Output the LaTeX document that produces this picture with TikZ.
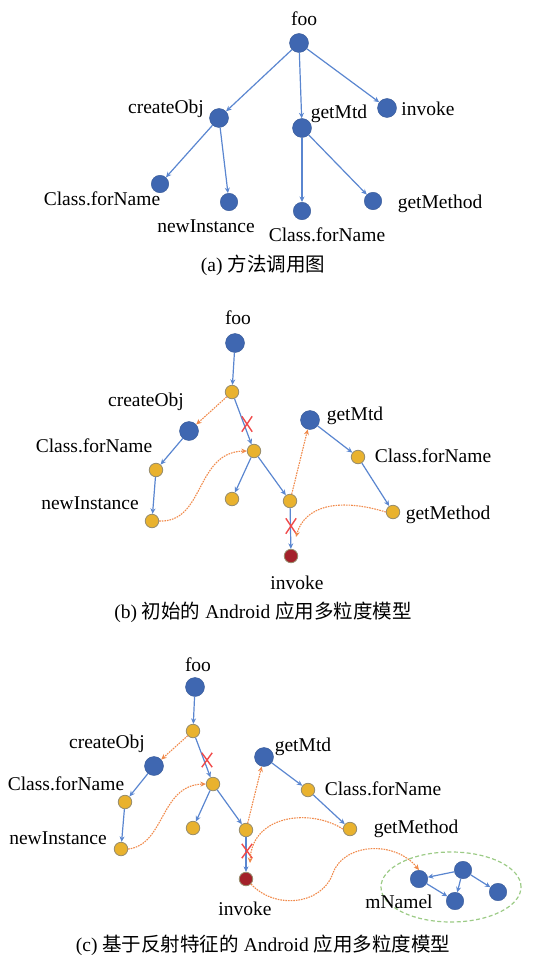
\documentclass[tikz,border=0pt]{standalone}
\usepackage{fontspec}
\setmainfont{Liberation Serif}
\newfontfamily\cjk{Noto Sans CJK SC}
\usetikzlibrary{arrows.meta,shapes.geometric,shapes.misc}
\definecolor{nblue}{HTML}{3F67B1}
\definecolor{eblue}{HTML}{5A86D0}
\definecolor{nyel}{HTML}{E9B22E}
\definecolor{nyelb}{HTML}{978C6C}
\definecolor{nred}{HTML}{A3212A}
\definecolor{eor}{HTML}{F08A4B}
\definecolor{xred}{HTML}{F04A4A}
\definecolor{egreen}{HTML}{9CCB86}
\begin{document}
\begin{tikzpicture}[x=1pt,y=-1pt,
  bn/.style={circle,fill=nblue,draw=nblue!85!black,line width=0.4pt,minimum size=19pt,inner sep=0pt},
  bns/.style={bn,minimum size=17.5pt},
  yn/.style={circle,fill=nyel,draw=nyelb,line width=0.8pt,minimum size=13.5pt,inner sep=0pt},
  rn/.style={circle,fill=nred,draw=nyelb,line width=0.8pt,minimum size=13.5pt,inner sep=0pt},
  lbl/.style={font=\fontsize{19.5}{22}\selectfont,inner sep=0pt},
  be/.style={draw=eblue,line width=1.2pt,-{Stealth[length=5.5pt,width=5pt]}},
  oe/.style={draw=eor,line width=1.1pt,dash pattern=on 1.6pt off 1pt,-{Stealth[length=5.5pt,width=5pt]}},
  xm/.style={draw=xred,cross out,line width=1.4pt,inner sep=0pt}]
\useasboundingbox (0,0) rectangle (535,955);

% ---------------- (a) ----------------
\node[bn] (a_foo) at (299,43) {};
\node[bn] (a_co) at (219,118) {};
\node[bn] (a_gm) at (302,128) {};
\node[bn] (a_inv) at (387,108) {};
\node[bns] (a_cf1) at (160,184) {};
\node[bns] (a_ni) at (229,202) {};
\node[bns] (a_cf2) at (302,211) {};
\node[bns] (a_gme) at (373,201) {};
\node[lbl] at (304,19) {foo};
\node[lbl] at (166,109) {createObj};
\node[lbl] at (339,114) {getMtd};
\node[lbl] at (428,109) {invoke};
\node[lbl] at (102,199) {Class.forName};
\node[lbl] at (206,226) {newInstance};
\node[lbl] at (327,235) {Class.forName};
\node[lbl] at (440,204) {getMethod};
\node[lbl] at (263,265) {(a) {\cjk 方法调用图}};
\draw[be] (a_foo) -- (a_co);
\draw[be] (a_foo) -- (a_gm);
\draw[be] (a_foo) -- (a_inv);
\draw[be] (a_co) -- (a_cf1);
\draw[be] (a_co) -- (a_ni);
\draw[be] (a_gm) -- (a_cf2);
\draw[be] (a_gm) -- (a_gme);

% ---------------- (b) ----------------
\node[bn] (b_foo) at (235,343) {};
\node[yn] (b_n1) at (232,392) {};
\node[bn] (b_co) at (189,431) {};
\node[yn] (b_cf) at (156,470) {};
\node[yn] (b_ni) at (152,521) {};
\node[yn] (b_mid) at (254,451) {};
\node[yn] (b_ll) at (232,499) {};
\node[yn] (b_rl) at (290,501) {};
\node[rn] (b_inv) at (291,556) {};
\node[bn] (b_gm) at (310,420) {};
\node[yn] (b_cf2) at (358,457) {};
\node[yn] (b_gme) at (393,512) {};
\node[lbl] at (238,318) {foo};
\node[lbl] at (146,402) {createObj};
\node[lbl] at (94,446) {Class.forName};
\node[lbl] at (90,503) {newInstance};
\node[lbl] at (297,583) {invoke};
\node[lbl] at (355,416) {getMtd};
\node[lbl] at (433,456) {Class.forName};
\node[lbl] at (448,515) {getMethod};
\node[lbl] at (263,612) {(b) {\cjk 初始的} Android {\cjk 应用多粒度模型}};
\draw[be] (b_foo) -- (b_n1);
\draw[be] (b_n1) -- (b_mid);
\draw[be] (b_co) -- (b_cf);
\draw[be] (b_cf) -- (b_ni);
\draw[be] (b_mid) -- (b_ll);
\draw[be] (b_mid) -- (b_rl);
\draw[be] (b_rl) -- (b_inv);
\draw[be] (b_gm) -- (b_cf2);
\draw[be] (b_cf2) -- (b_gme);
\node[xm,minimum width=9pt,minimum height=14pt] (b_x1) at (247,424) {};
\node[xm,minimum width=9pt,minimum height=14pt] (b_x2) at (291,526) {};
\draw[oe] (b_n1) -- (b_co);
\draw[oe] (b_rl) -- (b_gm);
\draw[oe] (b_ni.east) .. controls (205,523) and (195,452) .. (b_mid.west);
\coordinate (b_end) at (296,537);
\draw[oe] (b_gme.west) .. controls (340,498) and (305,505) .. (b_end);

% ---------------- (c) ----------------
\node[bn] (c_foo) at (195,687) {};
\node[yn] (c_n1) at (193,731) {};
\node[bn] (c_co) at (154,766) {};
\node[yn] (c_cf) at (125,802) {};
\node[yn] (c_ni) at (121,849) {};
\node[yn] (c_mid) at (213,784) {};
\node[yn] (c_ll) at (193,828) {};
\node[yn] (c_rl) at (246,830) {};
\node[rn] (c_inv) at (246,879) {};
\node[bn] (c_gm) at (264,757) {};
\node[yn] (c_cf2) at (308,790) {};
\node[yn] (c_gme) at (350,829) {};
\node[lbl] at (198,665) {foo};
\node[lbl] at (107,744) {createObj};
\node[lbl] at (66,784) {Class.forName};
\node[lbl] at (58,838) {newInstance};
\node[lbl] at (245,909) {invoke};
\node[lbl] at (303,747) {getMtd};
\node[lbl] at (383,789) {Class.forName};
\node[lbl] at (416,829) {getMethod};
\node[draw=egreen,line width=1.2pt,dash pattern=on 4pt off 2.5pt,ellipse,minimum width=140pt,minimum height=70pt,inner sep=0pt] (c_ell) at (451,887) {};
\node[bns] (c_A) at (419,879) {};
\node[bns] (c_B) at (463,870) {};
\node[bns] (c_C) at (455,901) {};
\node[bns] (c_D) at (498,892) {};
\node[lbl] at (399,902) {mNamel};
\node[lbl] at (263,945) {(c) {\cjk 基于反射特征的} Android {\cjk 应用多粒度模型}};
\draw[be] (c_foo) -- (c_n1);
\draw[be] (c_n1) -- (c_mid);
\draw[be] (c_co) -- (c_cf);
\draw[be] (c_cf) -- (c_ni);
\draw[be] (c_mid) -- (c_ll);
\draw[be] (c_mid) -- (c_rl);
\draw[be] (c_rl) -- (c_inv);
\draw[be] (c_gm) -- (c_cf2);
\draw[be] (c_cf2) -- (c_gme);
\draw[be] (c_B) -- (c_A);
\draw[be] (c_B) -- (c_C);
\draw[be] (c_B) -- (c_D);
\draw[be] (c_A) -- (c_C);
\node[xm,minimum width=9pt,minimum height=13pt] (c_x1) at (207,760) {};
\node[xm,minimum width=9pt,minimum height=13pt] (c_x2) at (247,851) {};
\draw[oe] (c_n1) -- (c_co);
\draw[oe] (c_rl) -- (c_gm);
\draw[oe] (c_ni.east) .. controls (165,845) and (160,785) .. (c_mid.west);
\coordinate (c_end) at (250,863);
\draw[oe] (c_gme.west) .. controls (310,808) and (252,815) .. (c_end);
\draw[oe] (c_inv.south east) .. controls (275,910) and (322,905) .. (333,873) .. controls (344,843) and (395,840) .. (c_A.north);
\end{tikzpicture}
\end{document}
